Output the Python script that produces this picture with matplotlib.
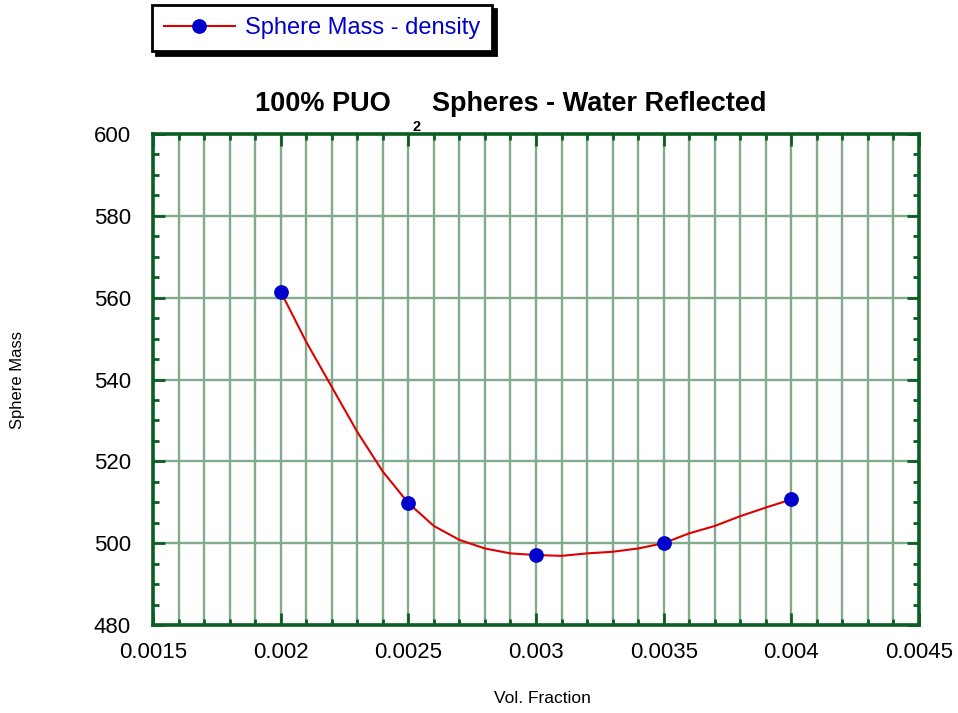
import matplotlib
matplotlib.use("Agg")
import matplotlib.pyplot as plt
from matplotlib.ticker import MultipleLocator, FormatStrFormatter

plt.rcParams["font.family"] = ["Liberation Sans", "DejaVu Sans"]

# measured points (markers)
vol_fraction = [0.002, 0.0025, 0.003, 0.0035, 0.004]
sphere_mass = [561.5, 509.8, 497.1, 500.0, 510.7]

# fitted curve
curve_x = [0.0020, 0.0021, 0.0022, 0.0023, 0.0024, 0.0025, 0.0026, 0.0027,
           0.0028, 0.0029, 0.0030, 0.0031, 0.0032, 0.0033, 0.0034, 0.0035,
           0.0036, 0.0037, 0.0038, 0.0039, 0.0040]
curve_y = [561.5, 549.2, 538.2, 527.2, 517.5, 509.8, 504.2, 500.8,
           498.7, 497.5, 497.1, 496.9, 497.5, 497.9, 498.7, 500.0,
           502.4, 504.2, 506.6, 508.7, 510.7]

grid_green = "#82ab8c"
axis_green = "#0b5e22"

W, H = 958, 713
fig = plt.figure(figsize=(W / 100, H / 100), dpi=100)
ax = fig.add_axes([153 / W, 1 - 625 / H, (919 - 153) / W, (625 - 134) / H])

ax.plot(curve_x, curve_y, color="#e00000", lw=1.5, zorder=3)
ax.plot(vol_fraction, sphere_mass, "o", color="#0000cc", ms=9.6, zorder=4)
# legend proxy: line with marker
proxy, = ax.plot([], [], "-o", color="#e00000", mfc="#0000cc", mec="#0000cc",
                 ms=9.6, lw=1.5, label="Sphere Mass - density")

ax.set_xlim(0.0015, 0.0045)
ax.set_ylim(480, 600)
ax.xaxis.set_major_locator(MultipleLocator(0.0005))
ax.xaxis.set_minor_locator(MultipleLocator(0.0001))
ax.yaxis.set_major_locator(MultipleLocator(20))
ax.yaxis.set_minor_locator(MultipleLocator(5))
ax.xaxis.set_major_formatter(FormatStrFormatter("%g"))

ax.grid(True, which="both", axis="x", color=grid_green, lw=1.7)
ax.grid(True, which="major", axis="y", color=grid_green, lw=1.7)
ax.set_axisbelow(True)

for s in ax.spines.values():
    s.set_color(axis_green)
    s.set_linewidth(2.6)
ax.tick_params(which="both", direction="in", top=True, right=True,
               color=axis_green, width=2)
ax.tick_params(which="major", length=8.5, labelsize=16)
ax.tick_params(which="minor", length=4.5)
ax.tick_params(axis="x", which="major", pad=12)
ax.tick_params(axis="y", which="major", pad=16)

# title with the dropped subscript, built from three pieces
base_y = 1 - 111 / H
fig.text(391 / W, base_y, "100% PUO", ha="right", va="baseline",
         fontsize=19.5, fontweight="bold")
fig.text(417 / W, 1 - 131 / H, "2", ha="center", va="baseline",
         fontsize=10.5, fontweight="bold")
fig.text(432 / W, base_y, "Spheres - Water Reflected", ha="left",
         va="baseline", fontsize=19.5, fontweight="bold")

fig.text(542 / W, 1 - 703 / H, "Vol. Fraction", ha="center", va="baseline",
         fontsize=12.5)
fig.text(18 / W, 1 - 380 / H, "Sphere Mass", rotation=90, va="center",
         ha="center", fontsize=12)

leg = fig.legend(handles=[proxy], loc="upper left",
                 bbox_to_anchor=(152 / W, 1 - 5 / H), fontsize=17,
                 frameon=True, fancybox=False,
                 shadow={"color": "black", "alpha": 1, "ox": 3, "oy": -3},
                 borderpad=0.5, handlelength=3.0, handletextpad=0.45,
                 borderaxespad=0)
leg.get_frame().set_edgecolor("black")
leg.get_frame().set_linewidth(2)
for t in leg.get_texts():
    t.set_color("#0000cc")

fig.savefig("out.png", dpi=100)
